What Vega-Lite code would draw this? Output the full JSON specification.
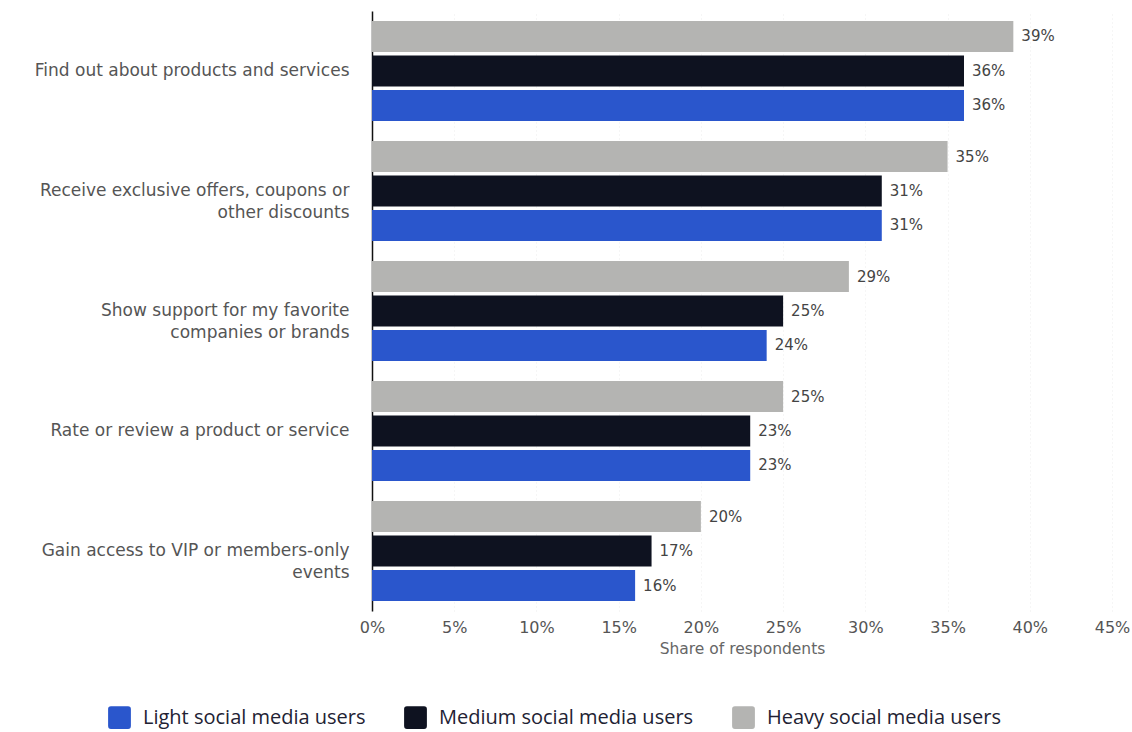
{
  "$schema": "https://vega.github.io/schema/vega-lite/v6.json",
  "width": 740,
  "height": 600,
  "autosize": "none",
  "padding": {"left": 372, "top": 11, "right": 20, "bottom": 121},
  "background": "white",
  "data": {
    "values": [
      {"reason": "Find out about products and services", "group": "Heavy social media users", "share": 0.39},
      {"reason": "Find out about products and services", "group": "Medium social media users", "share": 0.36},
      {"reason": "Find out about products and services", "group": "Light social media users", "share": 0.36},
      {"reason": "Receive exclusive offers, coupons or other discounts", "group": "Heavy social media users", "share": 0.35},
      {"reason": "Receive exclusive offers, coupons or other discounts", "group": "Medium social media users", "share": 0.31},
      {"reason": "Receive exclusive offers, coupons or other discounts", "group": "Light social media users", "share": 0.31},
      {"reason": "Show support for my favorite companies or brands", "group": "Heavy social media users", "share": 0.29},
      {"reason": "Show support for my favorite companies or brands", "group": "Medium social media users", "share": 0.25},
      {"reason": "Show support for my favorite companies or brands", "group": "Light social media users", "share": 0.24},
      {"reason": "Rate or review a product or service", "group": "Heavy social media users", "share": 0.25},
      {"reason": "Rate or review a product or service", "group": "Medium social media users", "share": 0.23},
      {"reason": "Rate or review a product or service", "group": "Light social media users", "share": 0.23},
      {"reason": "Gain access to VIP or members-only events", "group": "Heavy social media users", "share": 0.20},
      {"reason": "Gain access to VIP or members-only events", "group": "Medium social media users", "share": 0.17},
      {"reason": "Gain access to VIP or members-only events", "group": "Light social media users", "share": 0.16}
    ]
  },
  "encoding": {
    "y": {
      "field": "reason",
      "type": "nominal",
      "sort": null,
      "title": null,
      "scale": {"paddingInner": 0.167, "paddingOuter": 0.083},
      "axis": {
        "domain": true,
        "domainColor": "#111111",
        "domainWidth": 1.5,
        "ticks": false,
        "labelPadding": 23,
        "labelFont": "DejaVu Sans",
        "labelFontSize": 17,
        "labelColor": "#555555",
        "labelLimit": 400,
        "labelLineHeight": 22,
        "labelExpr": "datum.label == 'Receive exclusive offers, coupons or other discounts' ? ['Receive exclusive offers, coupons or', 'other discounts'] : datum.label == 'Show support for my favorite companies or brands' ? ['Show support for my favorite', 'companies or brands'] : datum.label == 'Gain access to VIP or members-only events' ? ['Gain access to VIP or members-only', 'events'] : datum.label"
      }
    },
    "yOffset": {
      "field": "group",
      "type": "nominal",
      "sort": ["Heavy social media users", "Medium social media users", "Light social media users"],
      "scale": {"paddingInner": 0.1, "paddingOuter": 0}
    },
    "x": {
      "field": "share",
      "type": "quantitative",
      "scale": {"domain": [0, 0.45], "nice": false},
      "title": "Share of respondents",
      "axis": {
        "values": [0, 0.05, 0.1, 0.15, 0.2, 0.25, 0.3, 0.35, 0.4, 0.45],
        "format": ".0%",
        "domain": false,
        "ticks": false,
        "grid": true,
        "gridColor": "#ececec",
        "gridDash": [1, 3],
        "labelFlush": false,
        "labelPadding": 8,
        "labelFont": "DejaVu Sans",
        "labelFontSize": 16,
        "labelColor": "#555555",
        "titleFont": "DejaVu Sans",
        "titleFontSize": 15.5,
        "titleFontWeight": "normal",
        "titleColor": "#666666",
        "titlePadding": 6
      }
    }
  },
  "layer": [
    {
      "mark": {"type": "bar"},
      "encoding": {
        "color": {
          "field": "group",
          "type": "nominal",
          "scale": {
            "domain": ["Light social media users", "Medium social media users", "Heavy social media users"],
            "range": ["#2a56cc", "#0e1220", "#b4b4b2"]
          },
          "legend": {
            "title": null,
            "orient": "none",
            "direction": "horizontal",
            "legendX": -264,
            "legendY": 695,
            "symbolType": "M-1,-0.75Q-1,-1,-0.75,-1L0.75,-1Q1,-1,1,-0.75L1,0.75Q1,1,0.75,1L-0.75,1Q-1,1,-1,0.75Z",
            "symbolSize": 520,
            "symbolStrokeWidth": 0,
            "symbolOpacity": 1,
            "labelFont": "Open Sans",
            "labelFontSize": 20,
            "labelColor": "#222233",
            "labelOffset": 12,
            "columnPadding": 38,
            "labelLimit": 400
          }
        }
      }
    },
    {
      "mark": {"type": "text", "align": "left", "baseline": "middle", "dx": 8, "font": "DejaVu Sans", "fontSize": 15, "color": "#444444"},
      "encoding": {
        "text": {"field": "share", "type": "quantitative", "format": ".0%"}
      }
    }
  ],
  "config": {"view": {"stroke": null}}
}
